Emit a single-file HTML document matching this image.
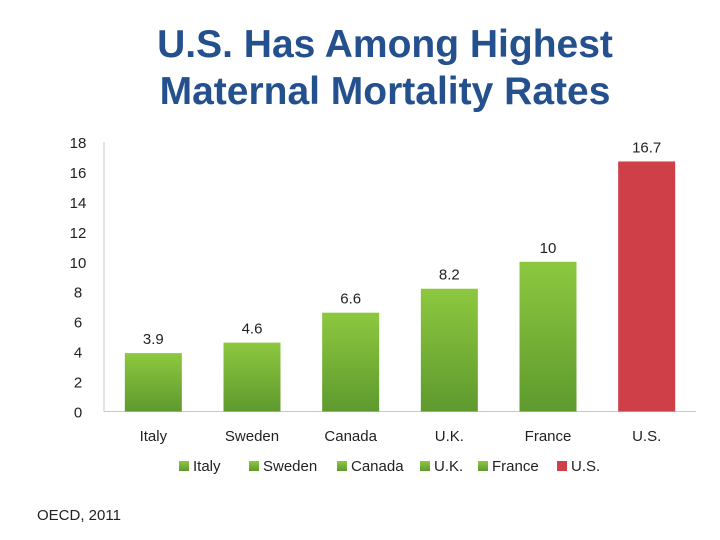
<!DOCTYPE html>
<html><head><meta charset="utf-8"><style>
body{margin:0;width:720px;height:540px;background:#fff;overflow:hidden;font-family:"Liberation Sans",sans-serif}
#title{position:absolute;top:21px;left:0;width:770px;text-align:center;font-weight:bold;font-size:39px;line-height:47px;color:#24508e}
#src{position:absolute;left:37px;top:507px;font-size:15px;color:#222}
svg text{font-family:"Liberation Sans",sans-serif;fill:#222}
</style></head><body>
<div id="title">U.S. Has Among Highest<br>Maternal Mortality Rates</div>
<svg id="chart" width="720" height="540" style="position:absolute;left:0;top:0">
<defs>
<linearGradient id="g" x1="0" y1="0" x2="0" y2="1"><stop offset="0" stop-color="#8dc83f"/><stop offset="1" stop-color="#5e9a2e"/></linearGradient>
</defs>
</svg>
<div id="src">OECD, 2011</div>
<script>
const categories=["Italy","Sweden","Canada","U.K.","France","U.S."];
const values=[3.9,4.6,6.6,8.2,10,16.7];
const labels=["3.9","4.6","6.6","8.2","10","16.7"];
const ticks=[0,2,4,6,8,10,12,14,16,18];
const svg=document.getElementById('chart');
const NS='http://www.w3.org/2000/svg';
const x0=104,x1=696,y0=411.5,y18=142;
const yS=v=>y0-(y0-y18)*v/18;
const band=(x1-x0)/categories.length;
const xC=i=>x0+band*(i+0.5);
function mk(t,a,p){const e=document.createElementNS(NS,t);for(const k in a)e.setAttribute(k,a[k]);(p||svg).appendChild(e);return e;}
const ax=mk('line',{x1:x0,y1:y18,x2:x0,y2:y0,stroke:'#c8c8c8'});

const bx=mk('line',{x1:x0,y1:y0,x2:x1,y2:y0,stroke:'#c8c8c8'});

ticks.forEach(t=>{const e=mk('text',{x:78,y:yS(t)+6,'text-anchor':'middle','font-size':15});e.textContent=t;
});
categories.forEach((c,i)=>{
 const w=57,h=y0-yS(values[i]);
 const fill=c==="U.S."?'#cf3f48':'url(#g)';
 const r=mk('rect',{x:xC(i)-w/2,y:yS(values[i]),width:w,height:h,fill:fill});
 
 const l=mk('text',{x:xC(i),y:yS(values[i])-9,'text-anchor':'middle','font-size':15});l.textContent=labels[i];
 
 const cl=mk('text',{x:xC(i),y:441,'text-anchor':'middle','font-size':15});cl.textContent=c;
 
});
const legX=[179,249,337,420,478,557];
categories.forEach((c,i)=>{
 const g=mk('g',{});
 
 mk('rect',{x:legX[i],y:461,width:10,height:10,fill:c==="U.S."?'#cf3f48':'url(#g)'},g);
 const t=mk('text',{x:legX[i]+14,y:471,'font-size':15},g);t.textContent=c;
});
</script>
</body></html>
